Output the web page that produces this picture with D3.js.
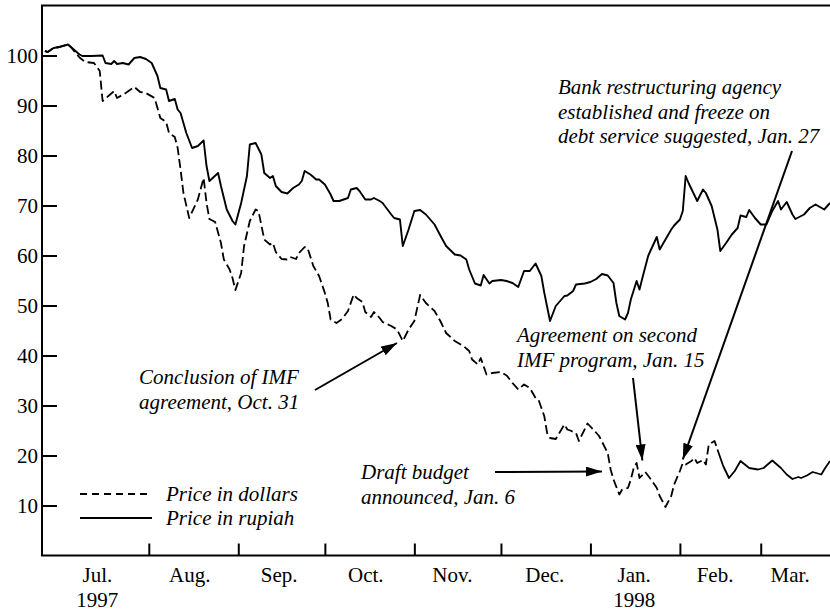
<!DOCTYPE html>
<html>
<head>
<meta charset="utf-8">
<script src="https://cdn.jsdelivr.net/npm/d3@7"></script>
<style>
  html, body { margin: 0; padding: 0; background: #fff; }
  svg { display: block; }
  text { font-family: "Liberation Serif", "Times New Roman", serif; fill: #000; }
</style>
</head>
<body>
<svg id="chart" width="830" height="612"></svg>
<script>
// ---------- data ----------
const rupiahDates = ["1997-06-26","1997-06-27","1997-06-29","1997-07-01","1997-07-04","1997-07-05","1997-07-08","1997-07-09","1997-07-12","1997-07-16","1997-07-17","1997-07-19","1997-07-20","1997-07-21","1997-07-23","1997-07-25","1997-07-27","1997-07-29","1997-07-31","1997-08-02","1997-08-04","1997-08-05","1997-08-07","1997-08-08","1997-08-10","1997-08-11","1997-08-12","1997-08-14","1997-08-16","1997-08-18","1997-08-20","1997-08-21","1997-08-22","1997-08-25","1997-08-26","1997-08-28","1997-08-30","1997-08-31","1997-09-02","1997-09-04","1997-09-05","1997-09-07","1997-09-09","1997-09-10","1997-09-12","1997-09-13","1997-09-14","1997-09-16","1997-09-18","1997-09-20","1997-09-22","1997-09-23","1997-09-24","1997-09-26","1997-09-28","1997-09-29","1997-10-01","1997-10-03","1997-10-04","1997-10-06","1997-10-09","1997-10-10","1997-10-12","1997-10-13","1997-10-15","1997-10-17","1997-10-18","1997-10-20","1997-10-21","1997-10-24","1997-10-25","1997-10-27","1997-10-28","1997-10-30","1997-11-01","1997-11-03","1997-11-05","1997-11-08","1997-11-10","1997-11-12","1997-11-15","1997-11-17","1997-11-19","1997-11-20","1997-11-22","1997-11-24","1997-11-25","1997-11-27","1997-11-28","1997-12-01","1997-12-03","1997-12-05","1997-12-07","1997-12-09","1997-12-11","1997-12-13","1997-12-15","1997-12-16","1997-12-18","1997-12-20","1997-12-23","1997-12-24","1997-12-26","1997-12-27","1997-12-30","1998-01-01","1998-01-03","1998-01-05","1998-01-07","1998-01-09","1998-01-10","1998-01-11","1998-01-13","1998-01-14","1998-01-15","1998-01-17","1998-01-18","1998-01-19","1998-01-21","1998-01-22","1998-01-24","1998-01-25","1998-01-27","1998-01-29","1998-01-30","1998-02-01","1998-02-02","1998-02-03","1998-02-04","1998-02-07","1998-02-09","1998-02-10","1998-02-12","1998-02-14","1998-02-15","1998-02-17","1998-02-19","1998-02-21","1998-02-22","1998-02-24","1998-02-25","1998-02-27","1998-03-01","1998-03-03","1998-03-05","1998-03-07","1998-03-08","1998-03-10","1998-03-12","1998-03-13","1998-03-16","1998-03-18","1998-03-20","1998-03-23","1998-03-25"];
const rupiahValues = [100.9,100.7,101.5,101.7,102.2,101.7,100.2,99.9,99.9,100.0,98.5,98.3,98.9,98.3,98.5,98.2,99.5,99.7,99.3,98.5,95.9,93.5,93.2,90.9,91.3,89.2,88.5,84.5,81.5,81.9,83.0,77.9,74.9,76.5,73.9,69.2,66.9,66.2,70.5,75.9,82.2,82.5,80.2,76.5,75.5,75.9,73.9,72.7,72.4,73.5,74.2,74.9,76.9,76.2,75.2,75.2,74.2,72.2,70.9,70.9,71.5,73.2,73.5,72.9,71.2,71.2,71.5,70.9,70.5,68.2,67.5,67.2,61.9,65.2,68.9,69.1,68.2,66.2,64.0,61.9,60.2,60.0,59.2,57.2,54.4,54.0,56.1,54.4,54.9,55.1,54.9,54.5,53.7,56.9,56.9,58.4,55.9,52.6,46.9,49.9,51.9,52.0,52.9,54.2,54.4,54.7,55.3,56.3,56.0,54.5,50.5,47.9,47.2,48.5,51.2,54.9,53.2,55.5,59.9,61.2,63.7,61.2,63.2,65.2,66.0,67.2,68.9,75.9,74.5,70.9,73.2,72.5,69.9,65.2,60.9,62.5,64.2,65.5,68.0,67.7,69.1,67.5,66.2,66.2,68.9,70.9,69.2,70.7,68.2,67.3,68.2,69.5,70.2,69.2,70.5];

const dollarDates = ["1997-06-26","1997-06-27","1997-06-29","1997-07-01","1997-07-04","1997-07-05","1997-07-08","1997-07-10","1997-07-13","1997-07-14","1997-07-15","1997-07-16","1997-07-18","1997-07-20","1997-07-21","1997-07-24","1997-07-27","1997-07-29","1997-07-31","1997-08-03","1997-08-04","1997-08-05","1997-08-07","1997-08-08","1997-08-10","1997-08-11","1997-08-12","1997-08-13","1997-08-15","1997-08-18","1997-08-20","1997-08-21","1997-08-22","1997-08-24","1997-08-26","1997-08-27","1997-08-29","1997-08-30","1997-08-31","1997-09-02","1997-09-03","1997-09-05","1997-09-07","1997-09-08","1997-09-10","1997-09-12","1997-09-13","1997-09-14","1997-09-16","1997-09-18","1997-09-19","1997-09-21","1997-09-22","1997-09-24","1997-09-25","1997-09-27","1997-09-29","1997-10-01","1997-10-02","1997-10-03","1997-10-05","1997-10-07","1997-10-09","1997-10-11","1997-10-12","1997-10-14","1997-10-15","1997-10-17","1997-10-18","1997-10-20","1997-10-21","1997-10-24","1997-10-26","1997-10-28","1997-10-30","1997-11-01","1997-11-03","1997-11-05","1997-11-08","1997-11-10","1997-11-12","1997-11-15","1997-11-18","1997-11-20","1997-11-21","1997-11-23","1997-11-24","1997-11-26","1997-11-28","1997-12-01","1997-12-03","1997-12-05","1997-12-07","1997-12-09","1997-12-11","1997-12-13","1997-12-14","1997-12-16","1997-12-17","1997-12-18","1997-12-20","1997-12-23","1997-12-24","1997-12-25","1997-12-27","1997-12-28","1997-12-31","1998-01-02","1998-01-04","1998-01-07","1998-01-08","1998-01-09","1998-01-11","1998-01-12","1998-01-14","1998-01-15","1998-01-16","1998-01-17","1998-01-18","1998-01-20","1998-01-22","1998-01-24","1998-01-25","1998-01-27","1998-01-29","1998-01-30","1998-02-01","1998-02-02","1998-02-03","1998-02-05","1998-02-06","1998-02-07","1998-02-09","1998-02-10","1998-02-11","1998-02-13","1998-02-14","1998-02-16","1998-02-18","1998-02-20","1998-02-22","1998-02-25","1998-02-28","1998-03-02","1998-03-05","1998-03-08","1998-03-10","1998-03-12","1998-03-14","1998-03-15","1998-03-17","1998-03-19","1998-03-22","1998-03-23","1998-03-25"];
const dollarValues = [100.9,100.7,101.5,101.7,102.2,101.7,99.6,98.7,98.5,97.7,96.9,90.9,91.9,92.9,91.5,92.5,93.7,92.7,92.5,91.5,89.5,87.5,86.7,84.5,83.7,81.5,77.2,72.5,67.5,71.2,75.5,70.5,67.3,66.7,62.5,59.2,57.2,55.5,53.1,56.5,61.9,66.9,69.2,68.9,63.2,62.2,62.5,60.7,59.3,59.2,59.7,59.3,60.5,61.7,61.5,57.9,55.9,52.5,50.5,47.2,46.5,47.3,48.9,52.2,51.5,50.7,48.7,47.7,48.7,47.5,46.7,45.9,45.2,42.9,45.2,46.9,52.1,50.5,48.9,46.9,44.5,42.9,41.9,40.9,39.2,38.2,39.5,36.2,36.5,36.7,36.0,34.5,33.2,34.2,33.5,31.5,31.2,27.9,24.5,23.5,23.3,26.2,25.2,25.0,24.5,22.9,26.4,25.2,23.9,20.5,17.2,15.2,12.2,13.2,13.5,15.2,17.5,18.5,15.5,16.7,15.2,13.5,11.9,9.7,11.9,14.2,16.9,18.5,18.2,18.9,19.5,18.5,19.1,18.2,22.2,22.9,21.2,17.9,15.5,16.9,18.9,17.5,17.2,17.5,19.0,17.5,16.2,15.3,15.7,15.5,16.0,16.7,16.2,17.2,18.9];
const dollarSolidFrom = "1998-02-14";

const yTicks = [10,20,30,40,50,60,70,80,90,100];
const monthTickDates = ["1997-08-01","1997-09-01","1997-10-01","1997-11-01","1997-12-01","1998-01-01","1998-02-01","1998-03-01"];
const monthLabels = ["Jul.","Aug.","Sep.","Oct.","Nov.","Dec.","Jan.","Feb.","Mar."];
const monthLabelDates = ["1997-07-14","1997-08-15","1997-09-15","1997-10-15","1997-11-14","1997-12-16","1998-01-16","1998-02-13","1998-03-11"];
const yearLabels = ["1997","1998"];
const yearLabelDates = ["1997-07-14","1998-01-16"];

const legendLabels = ["Price in dollars","Price in rupiah"];

const annotations = [
  {lines:["Conclusion of IMF","agreement, Oct. 31"], date:"1997-10-26", value:42.5},
  {lines:["Draft budget","announced, Jan. 6"], date:"1998-01-05", value:16.8},
  {lines:["Agreement on second","IMF program, Jan. 15"], date:"1998-01-19", value:19.0},
  {lines:["Bank restructuring agency","established and freeze on","debt service suggested, Jan. 27"], date:"1998-02-02", value:19.2}
];

// ---------- layout ----------
const parse = d3.timeParse("%Y-%m-%d");
const svg = d3.select("#chart");
const pLeft = 42, pRight = 830, pTop = 5.5, pBottom = 555.5;
const FS = 21;

const x = d3.scaleTime()
  .domain([parse("1997-06-25"), parse("1998-03-25")])
  .range([pLeft, pRight]);
const y = d3.scaleLinear().domain([0, 110]).range([pBottom, pTop]);

const rupiah = rupiahDates.map((d, i) => ({date: parse(d), value: rupiahValues[i]}));
const dollars = dollarDates.map((d, i) => ({date: parse(d), value: dollarValues[i]}));

const defs = svg.append("defs");
defs.append("marker")
  .attr("id", "arrow")
  .attr("viewBox", "0 0 16 10")
  .attr("refX", 16).attr("refY", 5)
  .attr("markerWidth", 16).attr("markerHeight", 10)
  .attr("markerUnits", "userSpaceOnUse")
  .attr("orient", "auto")
  .append("path").attr("d", "M0,0 L16,5 L0,10 z").attr("fill", "#000");

defs.append("clipPath").attr("id", "plot")
  .append("rect").attr("x", pLeft).attr("y", 0).attr("width", pRight - pLeft).attr("height", pBottom);

// frame
svg.append("path")
  .attr("d", `M${pRight},${pTop} H${pLeft} V${pBottom} H${pRight}`)
  .attr("fill", "none").attr("stroke", "#000").attr("stroke-width", 2);

// y axis
const yAxis = d3.axisLeft(y).tickValues(yTicks).tickSize(-15).tickPadding(4).tickFormat(d3.format("d"));
const gy = svg.append("g").attr("transform", `translate(${pLeft},0)`).call(yAxis);
gy.select(".domain").remove();
gy.selectAll(".tick line").attr("stroke", "#000").attr("stroke-width", 2);
gy.selectAll(".tick text").attr("font-size", FS).attr("font-family", "Liberation Serif").attr("fill", "#000");

// x axis ticks
const xAxis = d3.axisBottom(x).tickValues(monthTickDates.map(parse)).tickSize(-12).tickFormat("");
const gx = svg.append("g").attr("transform", `translate(0,${pBottom})`).call(xAxis);
gx.select(".domain").remove();
gx.selectAll(".tick line").attr("stroke", "#000").attr("stroke-width", 2);

// x month labels
const xLab = d3.axisBottom(x).tickValues(monthLabelDates.map(parse)).tickSize(0).tickPadding(12)
  .tickFormat((d, i) => monthLabels[i]);
const gxl = svg.append("g").attr("transform", `translate(0,${pBottom})`).call(xLab);
gxl.select(".domain").remove();
gxl.selectAll(".tick text").attr("font-size", FS).attr("font-family", "Liberation Serif").attr("fill", "#000");

const xYear = d3.axisBottom(x).tickValues(yearLabelDates.map(parse)).tickSize(0).tickPadding(37)
  .tickFormat((d, i) => yearLabels[i]);
const gxy = svg.append("g").attr("transform", `translate(0,${pBottom})`).call(xYear);
gxy.select(".domain").remove();
gxy.selectAll(".tick text").attr("font-size", FS).attr("font-family", "Liberation Serif").attr("fill", "#000");

// lines
const line = d3.line().x(d => x(d.date)).y(d => y(d.value)).curve(d3.curveLinear);
const plot = svg.append("g").attr("clip-path", "url(#plot)");
const solidStart = parse(dollarSolidFrom);

plot.append("path").datum(dollars.filter(d => d.date <= solidStart))
  .attr("d", line).attr("fill", "none").attr("stroke", "#000")
  .attr("stroke-width", 1.8).attr("stroke-dasharray", "9,4").attr("stroke-linejoin", "round");
plot.append("path").datum(dollars.filter(d => d.date >= solidStart))
  .attr("d", line).attr("fill", "none").attr("stroke", "#000")
  .attr("stroke-width", 1.8).attr("stroke-linejoin", "round");
plot.append("path").datum(rupiah)
  .attr("d", line).attr("fill", "none").attr("stroke", "#000")
  .attr("stroke-width", 1.9).attr("stroke-linejoin", "round");

// legend
const lg = svg.append("g").attr("transform", "translate(80,494)");
legendLabels.forEach((lab, i) => {
  lg.append("line").attr("x1", 0).attr("x2", 72).attr("y1", i * 24).attr("y2", i * 24)
    .attr("stroke", "#000").attr("stroke-width", 1.8)
    .attr("stroke-dasharray", i === 0 ? "7,5" : null);
  lg.append("text").attr("x", 86).attr("y", i * 24 + 7)
    .attr("font-size", FS).attr("font-style", "italic").text(lab);
});

// annotations
const annLayout = [
  {tx: 139, ty: 384, ax1: 315, ay1: 390},
  {tx: 361, ty: 479, ax1: 495, ay1: 472},
  {tx: 517, ty: 342, ax1: 633, ay1: 378},
  {tx: 558, ty: 94,  ax1: 792, ay1: 151}
];
annotations.forEach((a, i) => {
  const L = annLayout[i];
  const t = svg.append("text").attr("x", L.tx).attr("y", L.ty)
    .attr("font-size", FS).attr("font-style", "italic");
  a.lines.forEach((s, j) => {
    t.append("tspan").attr("x", L.tx).attr("dy", j === 0 ? 0 : 24.5).text(s);
  });
  svg.append("line")
    .attr("x1", L.ax1).attr("y1", L.ay1)
    .attr("x2", x(parse(a.date))).attr("y2", y(a.value))
    .attr("stroke", "#000").attr("stroke-width", 2)
    .attr("marker-end", "url(#arrow)");
});
</script>
</body>
</html>
